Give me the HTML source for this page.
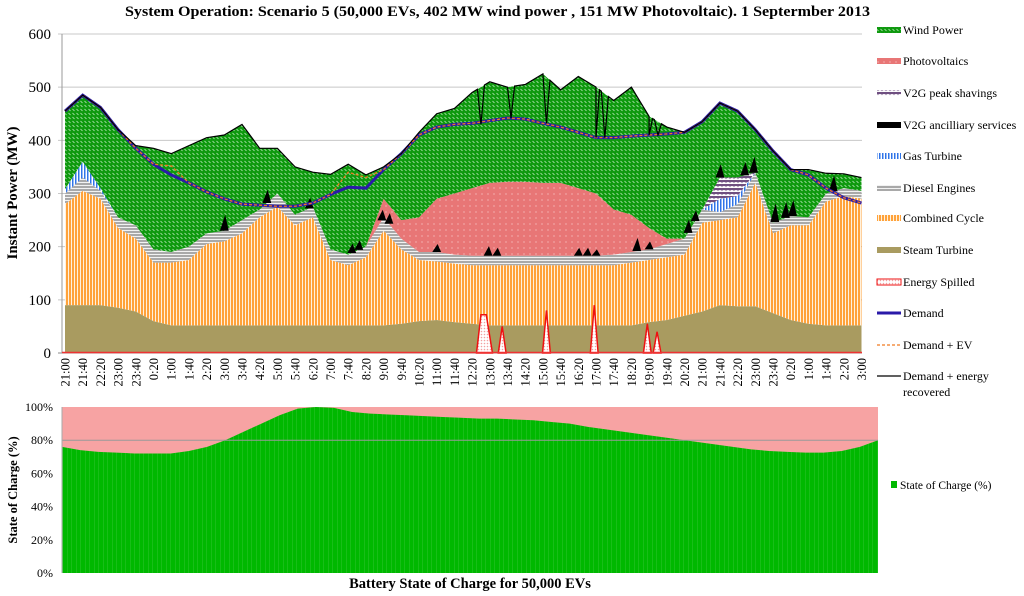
<!DOCTYPE html>
<html><head><meta charset="utf-8"><style>
body{margin:0;background:#fff;}
svg{display:block;font-family:"Liberation Serif",serif;}
</style></head><body>
<svg id="c" width="1024" height="596" viewBox="0 0 1024 596">
<defs>
<pattern id="pWind" width="4" height="4" patternUnits="userSpaceOnUse"><rect width="4" height="4" fill="#0e990e"/><path d="M0.5 1 L2.5 3" stroke="#bfe9bf" stroke-width="0.8"/></pattern>
<pattern id="pCC" width="3" height="3" patternUnits="userSpaceOnUse"><rect width="3" height="3" fill="#ffa23a"/><rect x="2" width="1" height="3" fill="#fff1dd"/></pattern>
<pattern id="pDiesel" width="3" height="3" patternUnits="userSpaceOnUse"><rect width="3" height="3" fill="#a9a9a9"/><rect y="2" width="3" height="1" fill="#f2f2f2"/></pattern>
<pattern id="pGas" width="3" height="3" patternUnits="userSpaceOnUse"><rect width="3" height="3" fill="#fff"/><rect width="1.5" height="3" fill="#2f74e8"/></pattern>
<pattern id="pPV" width="6" height="6" patternUnits="userSpaceOnUse"><rect width="6" height="6" fill="#e87676"/><circle cx="2" cy="2" r="0.6" fill="#fbd0d0"/></pattern>
<pattern id="pPeak" width="4" height="4" patternUnits="userSpaceOnUse"><rect width="4" height="4" fill="#fff"/><path d="M0 2 L1 0 L2 2 L3 0 L4 2" stroke="#5e3a72" fill="none" stroke-width="1.2"/></pattern>
<pattern id="pSpill" width="3" height="3" patternUnits="userSpaceOnUse"><rect width="3" height="3" fill="#fff"/><circle cx="1.5" cy="1.5" r="0.8" fill="#f2a0a0"/></pattern>
<pattern id="pSoc" width="4.5" height="4" patternUnits="userSpaceOnUse"><rect width="4.5" height="4" fill="#00b800"/><rect x="4" width="0.5" height="4" fill="#2fc42f"/></pattern>
</defs>
<g id="topg"></g>
<g id="botg"></g>
<g id="leg"></g>
</svg>
<script>
// ---- top chart data (per 40-min label) ----
const labels=["21:00","21:40","22:20","23:00","23:40","0:20","1:00","1:40","2:20","3:00","3:40","4:20","5:00","5:40","6:20","7:00","7:40","8:20","9:00","9:40","10:20","11:00","11:40","12:20","13:00","13:40","14:20","15:00","15:40","16:20","17:00","17:40","18:20","19:00","19:40","20:20","21:00","21:40","22:20","23:00","23:40","0:20","1:00","1:40","2:20","3:00"];
const steam=[90,90,90,85,78,60,52,52,52,52,52,52,52,52,52,52,52,52,52,55,60,62,58,55,52,52,52,52,52,52,52,52,52,58,62,70,78,90,88,88,75,62,55,52,52,52];
const combined=[190,215,200,150,137,110,118,123,153,158,173,203,223,188,203,123,113,128,178,140,115,110,110,110,113,113,113,113,113,113,113,113,118,117,118,115,167,160,167,232,150,178,185,233,243,238];
const diesel=[20,25,15,20,25,25,20,25,20,20,25,15,25,20,20,20,20,20,25,20,15,18,17,18,18,18,18,18,18,18,18,20,20,20,25,30,25,15,25,20,20,18,15,15,15,15];
const gas=[8,30,5,0,0,0,0,0,0,0,0,0,0,0,0,0,0,0,0,0,0,0,0,0,0,0,0,0,0,0,0,0,0,0,0,0,0,25,15,0,0,0,0,0,0,0];
const v2gPeak=[0,0,0,0,0,0,0,0,0,0,0,0,0,0,0,0,0,0,0,0,0,0,0,0,0,0,0,0,0,0,0,0,0,0,0,0,0,40,35,0,0,0,0,0,0,0];
const pv=[0,0,0,0,0,0,0,0,0,0,0,0,0,0,0,0,0,0,35,35,65,100,115,127,137,139,139,137,137,127,117,85,70,40,10,0,0,0,0,0,0,0,0,0,0,0];
const wind=[147,125,152,165,150,190,185,190,180,180,180,115,85,90,65,141,170,135,60,125,160,160,160,180,190,178,183,205,175,210,200,205,240,210,210,200,165,140,125,80,135,87,90,38,27,25];
const demand=[455,485,462,420,385,355,335,320,303,290,280,278,276,276,282,298,312,310,345,375,410,425,430,432,437,442,440,432,425,415,405,405,408,410,412,415,435,470,455,420,380,345,335,310,292,282];
const demandEV=[455,485,462,420,385,355,352,320,303,290,280,278,276,276,282,298,340,330,345,375,410,425,430,432,437,442,440,432,425,415,405,405,408,410,412,415,435,470,455,420,380,345,335,310,292,282];
const recTimes=[23.5,25.2,27.2,30.0,30.5,33.0,33.5];
const recValues=[430,442,432,405,405,410,410];
const ancTimes=[9.0,11.4,13.8,16.2,16.6,17.9,18.3,21.0,23.9,24.4,29.0,29.5,30.0,32.3,33.0,35.2,35.6,37.0,38.4,38.9,40.1,40.7,41.1,43.4];
const ancValues=[30,25,20,18,18,20,20,15,18,15,15,15,12,25,15,25,20,25,25,30,35,30,30,30];
const spillTimes=[23.7,24.7,27.2,29.9,32.9,33.45];
const spillValues=[72,50,80,90,55,40];
const yTicks=[0,100,200,300,400,500,600];
// ---- bottom chart data ----
const soc=[76,74,73,72.5,72,72,72,73.5,76,80,85,90,95,99,100,99.5,97,96,95.5,95,94.5,94,93.5,93,93,92.5,92,91,90,88,86.5,85,83.5,82,80.5,79,77.5,76,74.5,73.5,73,72.5,72.5,73.5,76,80];
const socTicks=[0,20,40,60,80,100];

const NS="http://www.w3.org/2000/svg";
function mk(tag,attrs,parent){const e=document.createElementNS(NS,tag);for(const k in attrs)e.setAttribute(k,attrs[k]);parent.appendChild(e);return e;}
const topG=document.getElementById('topg'),botG=document.getElementById('botg'),legG=document.getElementById('leg');
const X=i=>65+i*17.7, Y=v=>353-v*0.5317;
const interp=(arr,t)=>{const a=Math.floor(t),b=Math.min(a+1,arr.length-1),f=t-a;return arr[a]*(1-f)+arr[b]*f;};

yTicks.forEach(v=>{
  const g=mk('line',{x1:58,x2:862,y1:Y(v),y2:Y(v),stroke:v===0?'#888':'#c8c8c8','stroke-width':1},topG);
  
  
  const t=mk('text',{x:51,y:Y(v)+5,'text-anchor':'end','font-size':15},topG);t.textContent=v;
  
  
});
const ax=mk('line',{x1:62,x2:62,y1:Y(600),y2:Y(0),stroke:'#999'},topG);



const layers=[['steam',steam,'#a99b60'],['combined-cycle',combined,'url(#pCC)'],['diesel',diesel,'url(#pDiesel)'],['gas-turbine',gas,'url(#pGas)'],['v2g-peak',v2gPeak,'url(#pPeak)'],['photovoltaics',pv,'url(#pPV)'],['wind',wind,'url(#pWind)']];
let base=labels.map(()=>0);
const tops={};
layers.forEach(([name,arr,fill])=>{
  const t=base.map((b,i)=>b+arr[i]);
  let d='M'+X(0)+' '+Y(t[0]);
  for(let i=1;i<t.length;i++)d+=' L'+X(i)+' '+Y(t[i]);
  for(let i=t.length-1;i>=0;i--)d+=' L'+X(i)+' '+Y(base[i]);
  const p=mk('path',{d:d+'Z',fill:fill},topG);
  
  
  tops[name]=t;base=t;
});
ancTimes.forEach((t,k)=>{
  const b=interp(tops['gas-turbine'],t)+interp(v2gPeak,t);
  const p=mk('path',{d:`M${X(t-0.25)} ${Y(b)} L${X(t+0.05)} ${Y(b+ancValues[k])} L${X(t+0.25)} ${Y(b)}Z`,fill:'#000'},topG);
  
  
});
spillTimes.forEach((t,k)=>{
  const w=k===0?0.45:0.22;
  const d=k===0?`M${X(t-w)} ${Y(0)} L${X(t-0.2)} ${Y(spillValues[k])} L${X(t+0.1)} ${Y(spillValues[k])} L${X(t+w)} ${Y(0)}Z`:`M${X(t-w)} ${Y(0)} L${X(t)} ${Y(spillValues[k])} L${X(t+w)} ${Y(0)}Z`;
  const p=mk('path',{d:d,fill:'url(#pSpill)',stroke:'#ee1111','stroke-width':1.5},topG);
  
  
});
const zl=mk('line',{x1:62,x2:862,y1:Y(0)-0.5,y2:Y(0)-0.5,stroke:'#ee3333','stroke-width':1.5},topG);


function line(arr,attrs,name){
  const d=arr.map((v,i)=>(i?'L':'M')+X(i)+' '+Y(v)).join(' ');
  const p=mk('path',Object.assign({d:d,fill:'none'},attrs),topG);
  
  
}
line(demand,{stroke:'#2a1aa8','stroke-width':3},'demand-line');
line(demandEV,{stroke:'#f07a20','stroke-width':1.3,'stroke-dasharray':'3,2'},'demand-ev-line');
const pts=tops['wind'].map((v,i)=>[i,v]);
recTimes.forEach((t,k)=>{pts.push([t-0.2,interp(tops['wind'],t-0.2)]);pts.push([t,recValues[k]]);pts.push([t+0.2,interp(tops['wind'],t+0.2)]);});
pts.sort((a,b)=>a[0]-b[0]);
const rp=mk('path',{d:pts.map((p,i)=>(i?'L':'M')+X(p[0])+' '+Y(p[1])).join(' '),fill:'none',stroke:'#000','stroke-width':1.2},topG);


labels.forEach((l,i)=>{
  const t=mk('text',{transform:`translate(${X(i)+4.5},358) rotate(-90)`,'text-anchor':'end','font-size':12.5},topG);t.textContent=l;
  
  
});
let tt=mk('text',{x:125,y:16,'font-size':15,'font-weight':'bold',textLength:745,lengthAdjust:'spacingAndGlyphs'},topG);
tt.textContent='System Operation: Scenario 5 (50,000 EVs, 402 MW wind power , 151 MW Photovoltaic). 1 Septermber 2013';


tt=mk('text',{transform:'translate(17,193) rotate(-90)','text-anchor':'middle','font-size':15,'font-weight':'bold'},topG);
tt.textContent='Instant Power (MW)';



const BX=i=>62+i*(816/45), BY=v=>573-v*1.66;
let r=mk('rect',{x:62,y:BY(100),width:816,height:BY(0)-BY(100),fill:'#f7a3a3'},botG);


let sd='M'+BX(0)+' '+BY(0);
soc.forEach((v,i)=>{sd+=' L'+BX(i)+' '+BY(v);});
sd+=' L'+BX(45)+' '+BY(0)+'Z';
r=mk('path',{d:sd,fill:'url(#pSoc)'},botG);


socTicks.forEach(v=>{
  if(v===80){const g=mk('line',{x1:62,x2:878,y1:BY(v),y2:BY(v),stroke:'#999'},botG);
    
    }
  const t=mk('text',{x:53,y:BY(v)+4,'text-anchor':'end','font-size':12},botG);t.textContent=v+'%';
  
  
});
r=mk('line',{x1:62,x2:62,y1:BY(100),y2:BY(0),stroke:'#aaa'},botG);


tt=mk('text',{transform:'translate(17,490) rotate(-90)','text-anchor':'middle','font-size':12.5,'font-weight':'bold'},botG);
tt.textContent='State of Charge (%)';


tt=mk('text',{x:470,y:588,'text-anchor':'middle','font-size':14.5,'font-weight':'bold'},botG);
tt.textContent='Battery State of Charge for 50,000 EVs';



const legItems=[['Wind Power','url(#pWind)','box',30],['Photovoltaics','url(#pPV)','box',61],['V2G peak shavings','url(#pPeak)','box',93],['V2G ancilliary services','#000','box',125],['Gas Turbine','url(#pGas)','box',156],['Diesel Engines','url(#pDiesel)','box',188],['Combined Cycle','url(#pCC)','box',218],['Steam Turbine','#a99b60','box',250],['Energy Spilled','url(#pSpill)','spill',282],['Demand','#2a1aa8','line',313],['Demand + EV','#f07a20','dash',345],['Demand + energy','#000','thin',376]];
legItems.forEach(([lab,fill,kind,y])=>{
  const g=mk('g',{},legG);
  
  
  if(kind==='box')mk('rect',{x:877,y:y-3,width:24,height:6,fill:fill},g);
  else if(kind==='spill')mk('rect',{x:877,y:y-3,width:24,height:6,fill:fill,stroke:'#e11','stroke-width':1},g);
  else if(kind==='line')mk('line',{x1:877,x2:901,y1:y,y2:y,stroke:fill,'stroke-width':3},g);
  else if(kind==='dash')mk('line',{x1:877,x2:901,y1:y,y2:y,stroke:fill,'stroke-width':1.3,'stroke-dasharray':'3,2'},g);
  else mk('line',{x1:877,x2:901,y1:y,y2:y,stroke:fill,'stroke-width':1.3},g);
  const t=mk('text',{x:903,y:y+4,'font-size':12},g);t.textContent=lab;
});
tt=mk('text',{x:903,y:396,'font-size':12},legG);tt.textContent='recovered';


const sg=mk('g',{},legG);


mk('rect',{x:891,y:481,width:6,height:7,fill:'#00b800'},sg);
const st=mk('text',{x:900,y:489,'font-size':11.5},sg);st.textContent='State of Charge (%)';
</script>
</body></html>
